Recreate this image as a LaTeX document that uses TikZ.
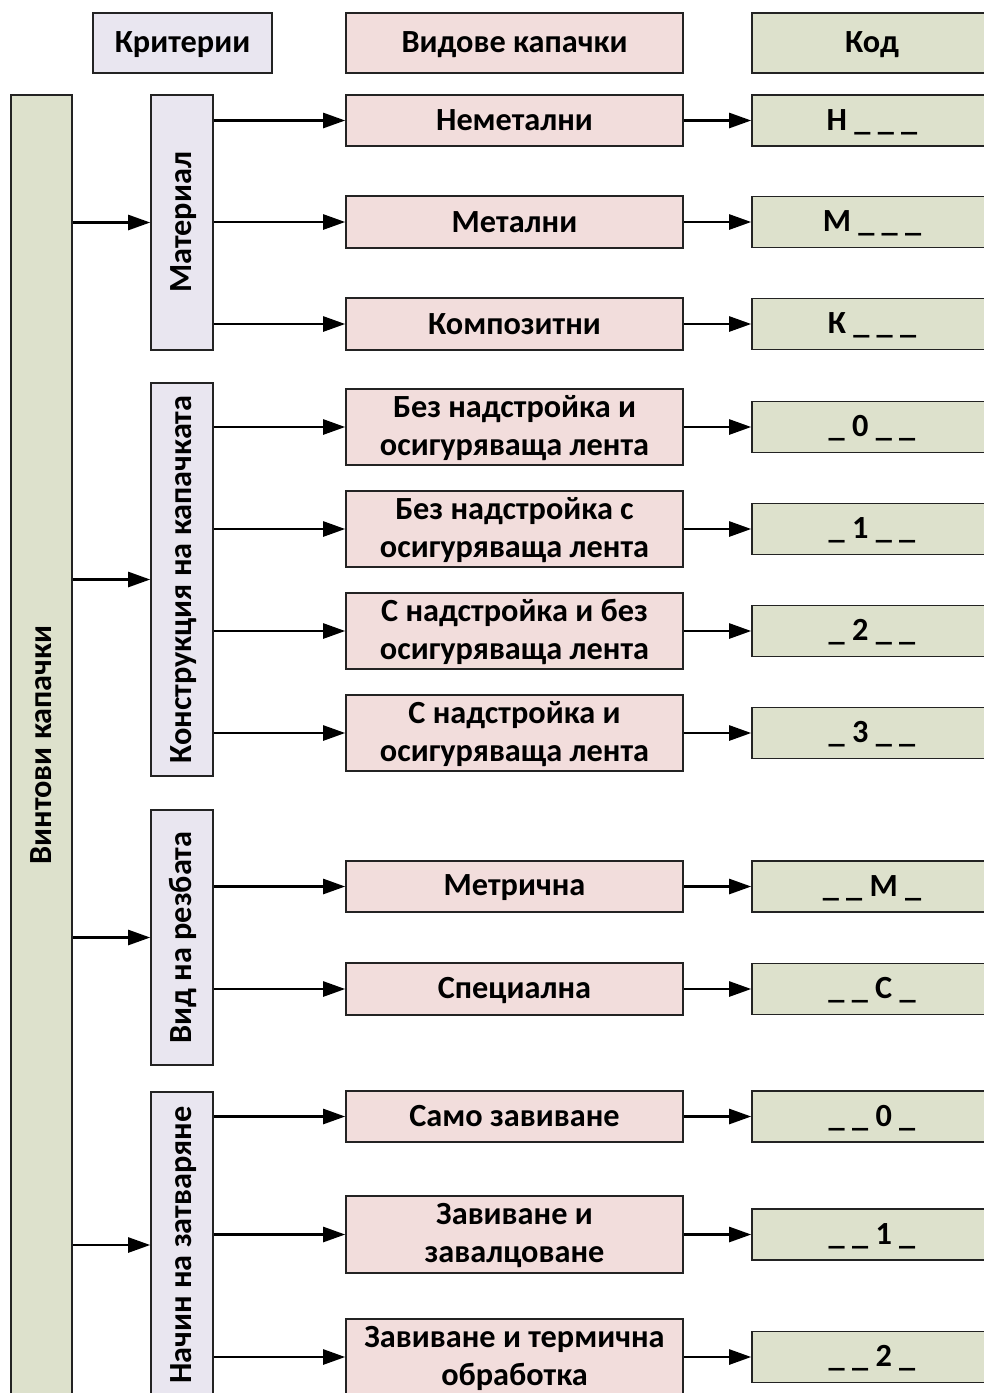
\documentclass[tikz,border=0pt]{standalone}
\usepackage{fontspec}
\setmainfont{Carlito}
\usetikzlibrary{arrows.meta}
\definecolor{critfill}{RGB}{233,230,240}
\definecolor{typefill}{RGB}{242,221,220}
\definecolor{codefill}{RGB}{221,225,204}
\definecolor{edge}{RGB}{35,35,35}
\newcommand\lnst{\rule[-4pt]{0pt}{28pt}}
\tikzset{
 box/.style={draw=edge, line width=1.6pt, inner sep=0pt, font=\fontsize{32.3}{38}\selectfont\bfseries, align=center},
 crit/.style={box, fill=critfill, minimum width=62pt},
 typ/.style={box, fill=typefill, minimum width=337pt},
 code/.style={box, fill=codefill, minimum width=240pt, minimum height=51pt},
 vlabel/.style={rotate=90, inner sep=0pt, font=\fontsize{32.3}{38}\selectfont\bfseries},
 arr/.style={line width=2.5pt, -{Triangle[length=22pt,width=15pt]}},
}
\begin{document}
\begin{tikzpicture}[x=1pt,y=-1pt]
\clip (0,0) rectangle (984,1393);
% headers
\node[crit, minimum width=179pt, minimum height=60pt] (h1) at (182.5,43) {\lnst Критерии};
\node[typ, minimum height=60pt] (h2) at (514.5,43) {\lnst Видове капачки};
\node[code, minimum height=60pt] (h3) at (872,43) {\lnst Код};
% main box
\node[box, fill=codefill, minimum width=61pt, minimum height=1300pt] (main) at (41.5,745) {};
\node[vlabel] (mainl) at (main.center) {\lnst Винтови капачки};
% criteria
\node[crit, minimum height=255pt] (c1) at (182,222.5) {};
\node[vlabel] (c1l) at (c1.center) {\lnst Материал};
\node[crit, minimum height=393pt] (c2) at (182,579.5) {};
\node[vlabel] (c2l) at (c2.center) {\lnst Конструкция на капачката};
\node[crit, minimum height=255pt] (c3) at (182,937.5) {};
\node[vlabel] (c3l) at (c3.center) {\lnst Вид на резбата};
\node[crit, minimum height=306pt] (c4) at (182,1245) {};
\node[vlabel] (c4l) at (c4.center) {\lnst Начин на затваряне};
% types
\node[typ, minimum height=51pt] (t1) at (514.5,120.5) {\lnst Неметални};
\node[typ, minimum height=52pt] (t2) at (514.5,222) {\lnst Метални};
\node[typ, minimum height=52pt] (t3) at (514.5,324) {\lnst Композитни};
\node[typ, minimum height=76pt] (t4) at (514.5,427) {\lnst Без надстройка и\\\lnst осигуряваща лента};
\node[typ, minimum height=76pt] (t5) at (514.5,529) {\lnst Без надстройка с\\\lnst осигуряваща лента};
\node[typ, minimum height=76pt] (t6) at (514.5,631) {\lnst С надстройка и без\\\lnst осигуряваща лента};
\node[typ, minimum height=76pt] (t7) at (514.5,733) {\lnst С надстройка и\\\lnst осигуряваща лента};
\node[typ, minimum height=51pt] (t8) at (514.5,886.5) {\lnst Метрична};
\node[typ, minimum height=52pt] (t9) at (514.5,989) {\lnst Специална};
\node[typ, minimum height=51pt] (t10) at (514.5,1116.5) {\lnst Само завиване};
\node[typ, minimum height=77pt] (t11) at (514.5,1234.5) {\lnst Завиване и\\\lnst завалцоване};
\node[typ, minimum height=76pt] (t12) at (514.5,1357) {\lnst Завиване и термична\\\lnst обработка};
% codes
\node[code] (k1) at (872,120.5) {\lnst Н \_ \_ \_};
\node[code] (k2) at (872,222) {\lnst М \_ \_ \_};
\node[code] (k3) at (872,324) {\lnst К \_ \_ \_};
\node[code] (k4) at (872,427) {\lnst \_ 0 \_ \_};
\node[code] (k5) at (872,529) {\lnst \_ 1 \_ \_};
\node[code] (k6) at (872,631) {\lnst \_ 2 \_ \_};
\node[code] (k7) at (872,733) {\lnst \_ 3 \_ \_};
\node[code] (k8) at (872,886.5) {\lnst \_ \_ М \_};
\node[code] (k9) at (872,989) {\lnst \_ \_ С \_};
\node[code] (k10) at (872,1116.5) {\lnst \_ \_ 0 \_};
\node[code] (k11) at (872,1234.5) {\lnst \_ \_ 1 \_};
\node[code] (k12) at (872,1357) {\lnst \_ \_ 2 \_};
% main -> criteria
\foreach \c in {c1,c2,c3,c4}
  \draw[arr] (main.east |- \c.center) -- (\c.west);
% criteria -> types
\foreach \t in {t1,t2,t3} \draw[arr] (c1.east |- \t.center) -- (\t.west);
\foreach \t in {t4,t5,t6,t7} \draw[arr] (c2.east |- \t.center) -- (\t.west);
\foreach \t in {t8,t9} \draw[arr] (c3.east |- \t.center) -- (\t.west);
\foreach \t in {t10,t11,t12} \draw[arr] (c4.east |- \t.center) -- (\t.west);
% types -> codes
\foreach \i in {1,...,12} \draw[arr] (t\i.east) -- (t\i.east -| k\i.west);
\end{tikzpicture}
\end{document}
